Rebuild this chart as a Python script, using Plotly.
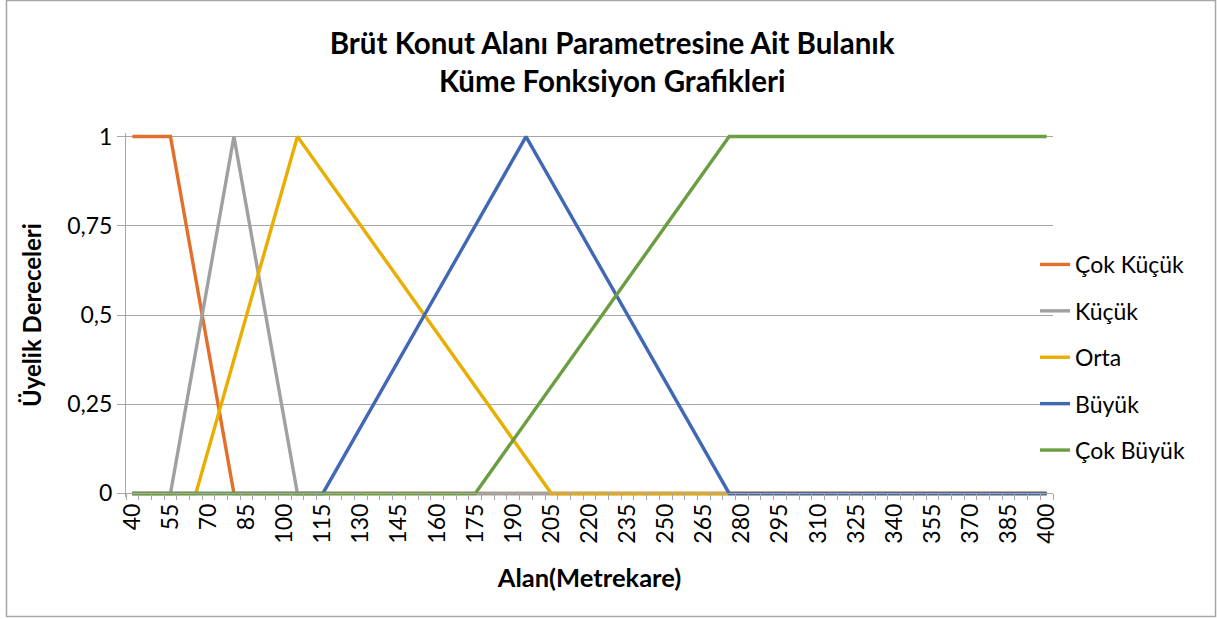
import plotly.graph_objects as go

# ---- data (breakpoints) ----
series_names = ["Çok Küçük", "Küçük", "Orta", "Büyük", "Çok Büyük"]

cok_kucuk_x = [40, 55, 80, 400]
cok_kucuk_y = [1, 1, 0, 0]

kucuk_x = [40, 55, 80, 105, 400]
kucuk_y = [0, 0, 1, 0, 0]

orta_x = [40, 65, 105, 205, 400]
orta_y = [0, 0, 1, 0, 0]

buyuk_x = [40, 115, 195, 275, 400]
buyuk_y = [0, 0, 1, 0, 0]

cok_buyuk_x = [40, 175, 275, 400]
cok_buyuk_y = [0, 0, 1, 1]

x_tick_vals = list(range(40, 401, 15))
y_tick_vals = [0, 0.25, 0.5, 0.75, 1]
y_tick_text = ["0", "0,25", "0,5", "0,75", "1"]

colors = ["#E2702C", "#A0A0A0", "#E8AE00", "#4168B4", "#6A9E40"]

xs = [cok_kucuk_x, kucuk_x, orta_x, buyuk_x, cok_buyuk_x]
ys = [cok_kucuk_y, kucuk_y, orta_y, buyuk_y, cok_buyuk_y]

FONT = "Lato"
GRID = "#A6A6A6"

fig = go.Figure()
for name, x, y, c in zip(series_names, xs, ys, colors):
    fig.add_trace(go.Scatter(
        x=x, y=y, mode="lines", name=name, legendgroup=name,
        line=dict(color=c, width=3.4),
    ))

W, H = 1217, 619
ML, MR, MT, MB = 126, 164, 133, 122
pw, ph = W - ML - MR, H - MT - MB
y_lo, y_hi = -0.01, 1.01
zero_pos = (0 - y_lo) / (y_hi - y_lo)

fig.update_layout(
    width=W, height=H,
    margin=dict(l=ML, r=MR, t=MT, b=MB),
    paper_bgcolor="white", plot_bgcolor="white",
    font=dict(family=FONT, color="#000000", size=23),
    title=dict(
        text="<b>Brüt Konut Alanı Parametresine Ait Bulanık<br>Küme Fonksiyon Grafikleri</b>",
        x=0.503, xref="container", xanchor="center",
        y=1 - 54 / H, yref="container", yanchor="middle",
        font=dict(family=FONT, size=29.5, color="#000000"),
    ),
    showlegend=True,
    legend=dict(
        x=(1035 - ML) / pw, xanchor="left",
        y=(H - MB - 243) / ph, yanchor="top",
        font=dict(family=FONT, size=23, color="#000000"),
        traceorder="grouped", tracegroupgap=13.5,
        bgcolor="rgba(0,0,0,0)",
    ),
    xaxis=dict(
        range=[37.5, 402.5],
        tickmode="array", tickvals=x_tick_vals,
        ticktext=[str(v) for v in x_tick_vals],
        tickangle=-90,
        ticks="", ticklen=6,
        tickfont=dict(family=FONT, size=23),
        minor=dict(ticks="outside", tick0=37.5, dtick=5, ticklen=6,
                   tickcolor=GRID, tickwidth=1, showgrid=False),
        showgrid=False, zeroline=False,
        showline=True, linecolor=GRID, linewidth=1,
        anchor="free", position=zero_pos,
        title=dict(text="<b>Alan(Metrekare)</b>", font=dict(family=FONT, size=25.5), standoff=26),
    ),
    yaxis=dict(
        range=[y_lo, y_hi],
        tickmode="array", tickvals=y_tick_vals, ticktext=y_tick_text,
        ticks="outside", ticklen=8, tickcolor=GRID, tickwidth=1,
        tickfont=dict(family=FONT, size=23),
        showgrid=True, gridcolor=GRID, gridwidth=1,
        zeroline=False,
        showline=True, linecolor=GRID, linewidth=1,
        title=dict(text="<b>Üyelik Dereceleri</b>", font=dict(family=FONT, size=24), standoff=18),
    ),
)

# chart-area border
fig.add_shape(
    type="rect", xref="paper", yref="paper",
    x0=(6.5 - ML) / pw, x1=(1215.5 - ML) / pw,
    y0=(H - MB - 616.5) / ph, y1=(H - MB - 0.5) / ph,
    line=dict(color=GRID, width=1.5), fillcolor="rgba(0,0,0,0)", layer="below",
)

fig.write_html(
    "out.html",
    config={"displayModeBar": False},
    post_script="document.body.style.margin='0';document.body.style.overflow='hidden';",
)
